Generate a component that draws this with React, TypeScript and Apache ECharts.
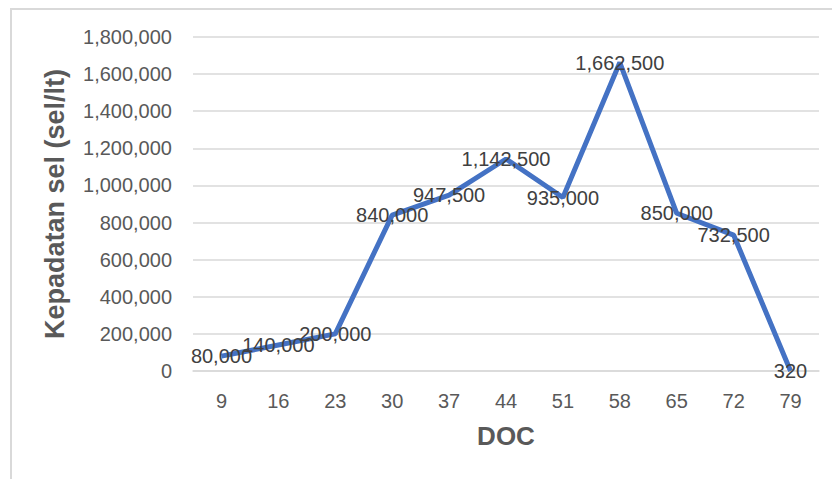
import React, { useEffect, useRef } from "react";
import * as echarts from "echarts";

const categories = ["9", "16", "23", "30", "37", "44", "51", "58", "65", "72", "79"];
const cellDensity = [80000, 140000, 200000, 840000, 947500, 1142500, 935000, 1662500, 850000, 732500, 320];
const yTitle = "Kepadatan sel (sel/lt)";
const xTitle = "DOC";

const fmt = (v: number) => v.toLocaleString("en-US");

export default function App() {
  const ref = useRef<HTMLDivElement>(null);
  useEffect(() => {
    if (!ref.current) return;
    const chart = echarts.init(ref.current, null, { renderer: "svg" });
    chart.setOption({
      animation: false,
      backgroundColor: "#ffffff",
      textStyle: { fontFamily: "Liberation Sans" },
      graphic: [
        {
          type: "rect",
          shape: { x: 11, y: 9, width: 900, height: 600 },
          style: { fill: "none", stroke: "#d9d9d9", lineWidth: 2 },
          silent: true,
        },
      ],
      grid: { left: 193, right: 13, top: 37, bottom: 108 },
      xAxis: {
        type: "category",
        data: categories,
        boundaryGap: true,
        axisLine: { show: true, lineStyle: { color: "#d9d9d9", width: 1.5 } },
        axisTick: { show: false },
        axisLabel: { color: "#595959", fontSize: 20, margin: 20, fontFamily: "Liberation Sans" },
        name: xTitle,
        nameLocation: "middle",
        nameGap: 52,
        nameTextStyle: { color: "#595959", fontSize: 26, fontWeight: "bold", fontFamily: "Liberation Sans" },
      },
      yAxis: {
        type: "value",
        min: 0,
        max: 1800000,
        interval: 200000,
        axisLine: { show: false },
        axisTick: { show: false },
        splitLine: { lineStyle: { color: "#d9d9d9", width: 1.5 } },
        axisLabel: {
          color: "#595959",
          fontSize: 20,
          margin: 21,
          fontFamily: "Liberation Sans",
          formatter: (v: number) => fmt(v),
        },
        name: yTitle,
        nameLocation: "middle",
        nameGap: 125,
        nameRotate: 90,
        nameTextStyle: { color: "#595959", fontSize: 27, fontWeight: "bold", fontFamily: "Liberation Sans" },
      },
      series: [
        {
          type: "line",
          data: cellDensity,
          showSymbol: true,
          symbol: "circle",
          symbolSize: 1,
          lineStyle: { color: "#4472c4", width: 5 },
          itemStyle: { color: "#4472c4", opacity: 0 },
          label: {
            show: true,
            position: "inside",
            color: "#404040",
            opacity: 1,
            fontSize: 20,
            fontFamily: "Liberation Sans",
            formatter: (p: any) => fmt(p.value),
          },
        },
      ],
    });
    return () => chart.dispose();
  }, []);
  return (
    <div
      ref={ref}
      style={{ position: "absolute", left: 0, top: 0, width: 832, height: 479 }}
    />
  );
}
